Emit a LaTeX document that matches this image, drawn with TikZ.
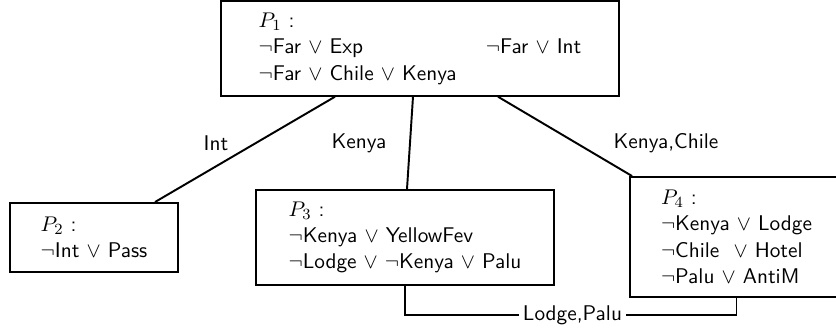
\documentclass[tikz,border=0pt,11pt]{standalone}
\usetikzlibrary{calc}

\begin{document}
\begin{tikzpicture}[x=0.515pt,y=-0.515pt,font=\sffamily,part/.style={shape=rectangle,draw=black,line width=1pt,align=left,inner sep=0pt},link/.style={line width=1pt}]
\def\u{0.515pt};

\useasboundingbox (0,0) rectangle (836,332);
\clip (0,0) rectangle (836,332);

\node[part,minimum width=398*\u,minimum height=94.5*\u] (P1) at (420,48.5) {\begin{tabular}{@{}l@{\hspace{15pt}}l@{}}
$P_1$ : & \\
$\neg$Far $\vee$ Exp & $\neg$Far $\vee$ Int\\
$\neg$Far $\vee$ Chile $\vee$ Kenya &
\end{tabular}};

\node[part,minimum width=168*\u,minimum height=69*\u] (P2) at (94,237.5) {$P_2$ :\\ $\neg$Int $\vee$ Pass};
\draw[link] ([xshift=-85*\u]P1.south) -- ([xshift=61*\u]P2.north);
\node (lInt) at (216,143) {Int};

\node[part,minimum width=298*\u,minimum height=95*\u] (P3) at (405,237.5) {$P_3$ :\\ $\neg$Kenya $\vee$ YellowFev\\ $\neg$Lodge $\vee$ $\neg$Kenya $\vee$ Palu};
\draw[link] ([xshift=-7*\u]P1.south) -- ([xshift=2*\u]P3.north);
\node (lKenya) at (359,143) {Kenya};

\node[part,minimum width=213*\u,minimum height=120*\u] (P4) at (736.5,237) {$P_4$ :\\ $\neg$Kenya $\vee$ Lodge\\ $\neg$Chile~ $\vee$ Hotel\\ $\neg$Palu $\vee$ AntiM};
\draw[link] ([xshift=78*\u]P1.south) -- ([xshift=3*\u]P4.north west);
\node (lKC) at (666,143) {Kenya,Chile};

\node[inner sep=2pt] (lLP) at (572.5,315) {Lodge,Palu};
\draw[link] (P3.south) |- (lLP.west);
\draw[link] (lLP.east) -| (P4.south);
\end{tikzpicture}
\end{document}
